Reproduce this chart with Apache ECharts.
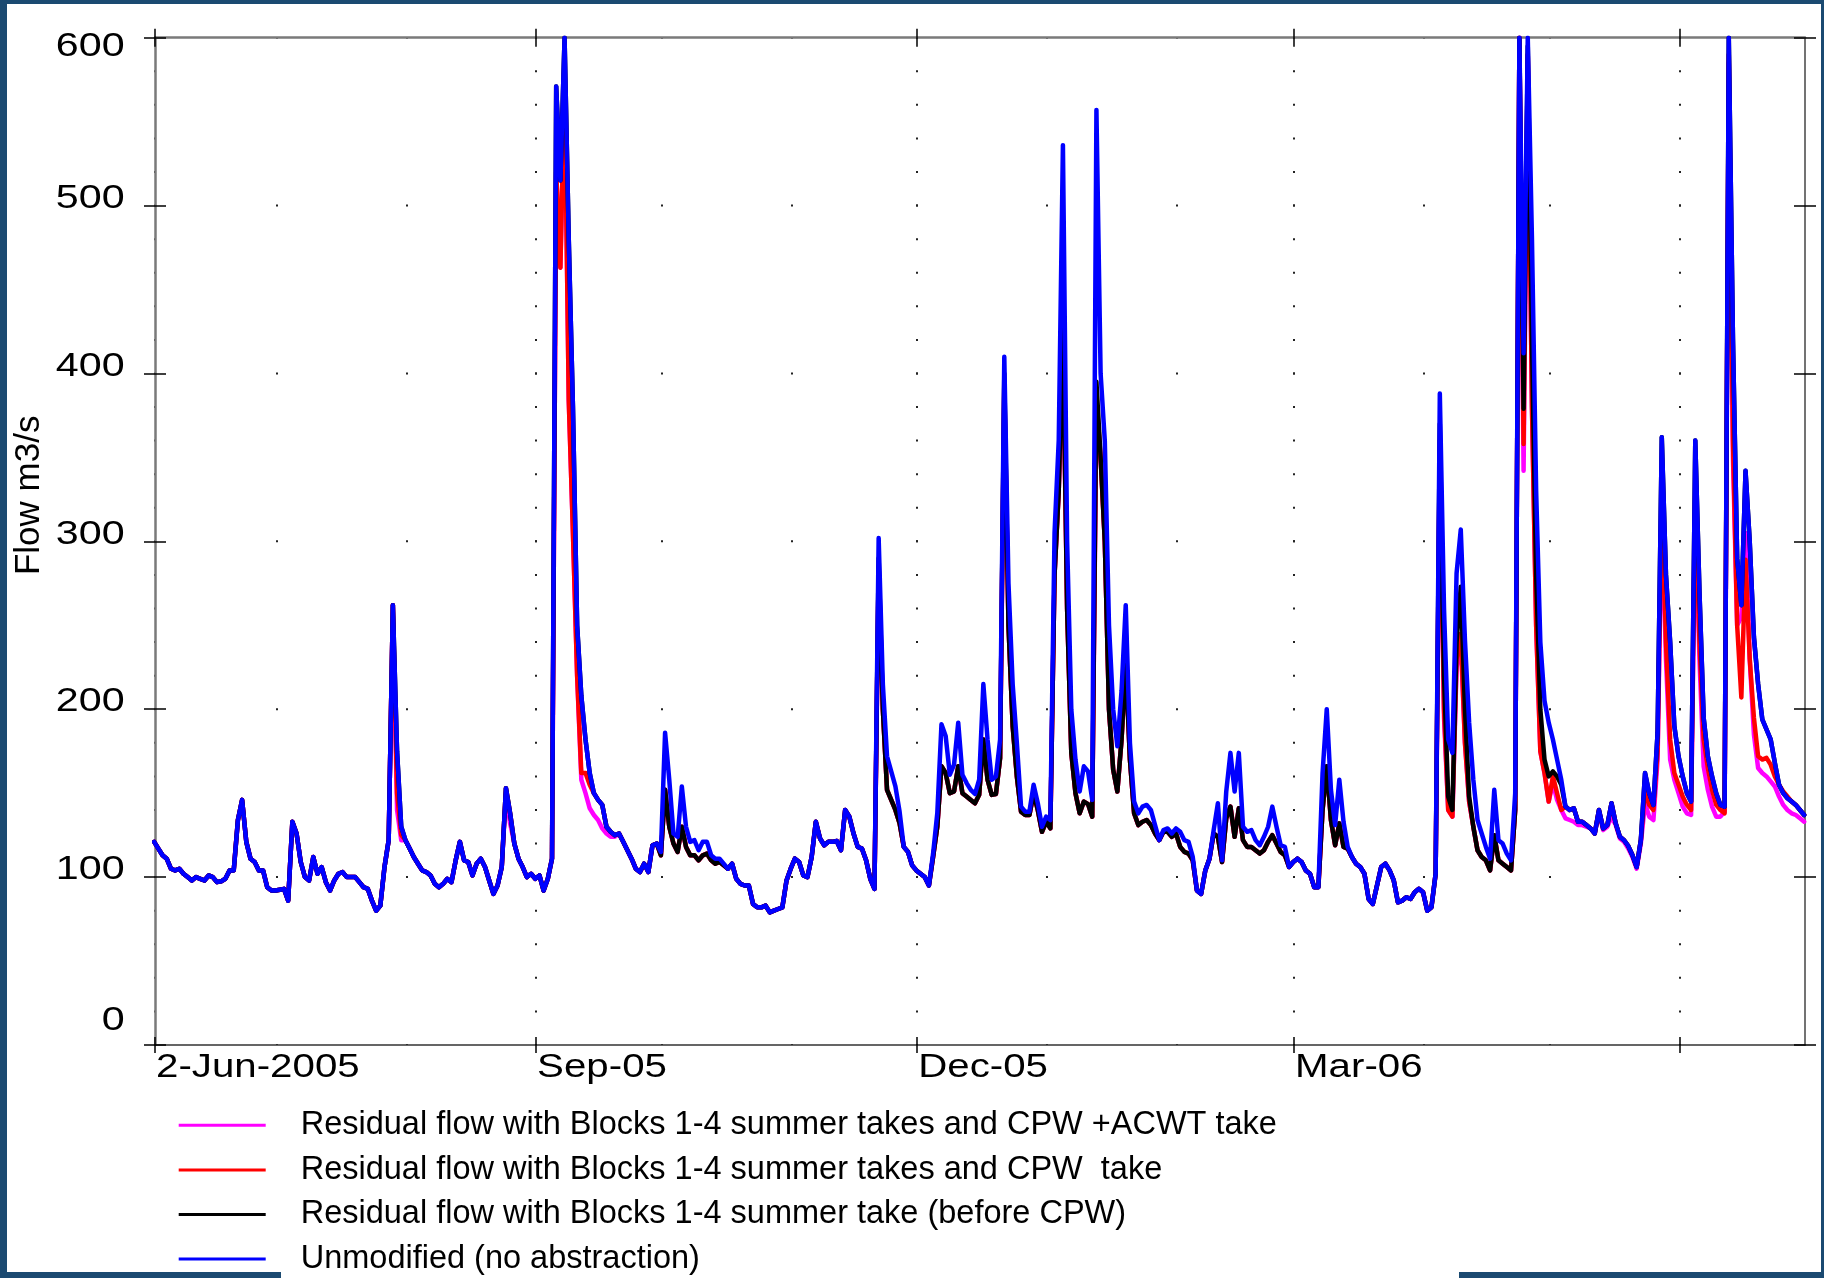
<!DOCTYPE html>
<html>
<head>
<meta charset="utf-8">
<title>Residual flow scenarios</title>
<script src="https://cdn.jsdelivr.net/npm/echarts@6/dist/echarts.min.js"></script>
<style>
  html, body { margin: 0; padding: 0; background: #ffffff; }
  #chart { width: 1824px; height: 1278px; }
</style>
</head>
<body>
<div id="chart"></div>
<script>
// ---------------------------------------------------------------------------
// Daily flow (m3/s), 2 Jun 2005 - 1 Jul 2006.
// Index i is the i-th daily sample; samples fall 0.8 day into each day,
// so sample i sits at (i - 0.2) days after the start of the axis.
// ---------------------------------------------------------------------------
const seriesNames = [
  'Residual flow with Blocks 1-4 summer takes and CPW +ACWT take',
  'Residual flow with Blocks 1-4 summer takes and CPW  take',
  'Residual flow with Blocks 1-4 summer take (before CPW)',
  'Unmodified (no abstraction)'
];
const seriesColors = ['#ff00ff', '#ff0000', '#000000', '#0000ff'];

// x-axis: days since 2-Jun-2005
const tickDays = [0, 91, 182, 272, 364];
const tickLabels = ['2-Jun-2005', 'Sep-05', 'Dec-05', 'Mar-06', ''];
const monthStartDays = [29, 60, 91, 121, 152, 182, 213, 244, 272, 303, 333, 364];
const dayRange = [0, 394];
const yTicks = [0, 100, 200, 300, 400, 500, 600];

const flowUnmodified = [
  121,117,113,111,105,104,105,102,100,98,
  100,99,98,101,100,97,97.5,99,104,104,
  134,146,121,111,109,104,104,94,92,92,
  92.5,93,86,133,126,109,100,98,112,102,
  106,97,92,98,102,103,100,100,100,97,
  94,93,86,80,83,106,122,262,175,130,
  122,117,112,108,104,103,101,96,94,96,
  99,97,110,121,110,109,101,108,111,106,
  98,90,95,106,153,138,120,111,106,100,
  102,99,101,92,99,111,571,515,600,480,
  380,250,208,182,162,150,146,143,130,127,
  125,126,121,116,111,105,103,108,103,119,
  120,115,186,158,126,124,154,130,121,122,
  116,121,121,113,111,111,108,105,108,99,
  96,95,95,84,82,82,83,79,80,81,
  82,98,105,111,109,101,100,112,133,123,
  119,121,121,121.5,116,140,136,126,118,117,
  110,99,93,302,215,172,163,154,139,118,
  115,107,104,102,100,95,114,138,191,184,
  161,167,192,161,156,152,149.5,158,215,182,
  158,160,182,410,275,215,180,142,139,139,
  155,144,130,136,134,305,360,536,300,200,
  170,151,166,163,146,557,400,360,250,200,
  178,211,262,180,145,138,142,143,140,131,
  122,128,129,126,129,127,122,121,112,92,
  90,104,111,128,144,110,151,174,151,174,
  130,127,128,122,119,124,130,142,130,119,
  118,106,109,111,109,104,102,94,94,162,
  200,152,131,158,133,118,112,108,106,102,
  87,84,95,106,108,104,98,85,86,88,
  87,91,93,91,80,82,102,388,260,182,
  174,281,307,241,192,158,134,126,118,111,
  152,122,120,114,110,150,600,412,600,480,
  330,240,205,192,182,170,158,142,140,141,
  133,133,131,129,126,140,129,131,144,132,
  124,122,118.5,113,106,122,162,150,143,186,
  362,280,240,190,172,160,150,145,360,270,
  195,172,160,150,143,142,600,420,290,262,
  342,300,243,215,194,188,182,168,155,150,
  147,145,143,140,137
];

const flowSummerTake = [
  121,117,113,111,105,104,105,102,100,98,
  100,99,98,101,100,97,97.5,99,104,104,
  134,146,121,111,109,104,104,94,92,92,
  92.5,93,86,133,126,109,100,98,112,102,
  106,97,92,98,102,103,100,100,100,97,
  94,93,86,80,83,106,122,262,175,130,
  122,117,112,108,104,103,101,96,94,96,
  99,97,110,121,110,109,101,108,111,106,
  98,90,95,106,153,138,120,111,106,100,
  102,99,101,92,99,111,571,515,600,480,
  380,250,208,182,162,150,146,143,130,127,
  125,126,121,116,111,105,103,108,103,119,
  120,113,152,130,120,115,130,118,113,113,
  110,113,114,110,108,109,107,105,108,99,
  96,95,95,84,82,82,83,79,80,81,
  82,98,105,111,109,101,100,112,133,123,
  119,121,121,121.5,116,140,136,126,118,117,
  110,99,93,290,200,152,146,140,132,118,
  115,107,104,102,100,95,112,130,166,162,
  150,151,166,150,148,146,144,149,182,158,
  149,149.5,171,400,250,190,160,139,137,137,
  150,140,127,133,129,280,330,430,260,174,
  150,138,145,143.5,136,395,350,300,200,164,
  151,182,228,170,138,131,133,134,131,126,
  122,127,127,124,126,118,115,114,110,92,
  90,104,111,126,124,109,135,142,124,141,
  122,118,118,116,114,116,121,125,120,115,
  113,106,109,111,109,104,102,94,94,140,
  166,134,119,132,118,117,112,108,106,102,
  87,84,95,106,108,104,98,85,86,88,
  87,91,93,91,80,82,102,370,220,148,
  140,240,273,200,148,130,116,112,110,104,
  125,110,108,106,104,140,600,379,595,420,
  280,200,170,160,163,160,155,142,140,141,
  133,133,131,129,126,140,129,131,144,132,
  124,122,118.5,113,106,122,162,150,143,186,
  362,280,240,190,172,160,150,145,360,270,
  195,172,160,150,143,142,600,420,290,262,
  342,300,243,215,194,188,182,168,155,150,
  147,145,143,140,137
];

const flowWithCPW = [
  121,117,113,111,105,104,105,102,100,98,
  100,99,98,101,100,97,97.5,99,104,104,
  134,146,121,111,109,104,104,94,92,92,
  92.5,93,86,133,126,109,100,98,112,102,
  106,97,92,98,102,103,100,100,100,97,
  94,93,86,80,83,106,122,262,150,125,
  122,117,112,108,104,103,101,96,94,96,
  99,97,110,121,110,109,101,108,111,106,
  98,90,95,106,153,138,120,111,106,100,
  102,99,101,92,99,111,520,463,575,384,
  305,220,162,162,155,150,146,143,130,127,
  125,126,121,116,111,105,103,108,103,119,
  120,113,152,130,120,115,130,118,113,113,
  110,113,114,110,108,109,107,105,108,99,
  96,95,95,84,82,82,83,79,80,81,
  82,98,105,111,109,101,100,112,133,123,
  119,121,121,121.5,116,140,136,126,118,117,
  110,99,93,285,200,152,146,140,132,118,
  115,107,104,102,100,95,112,130,166,162,
  150,151,166,150,148,146,144,149,182,158,
  149,149.5,171,395,250,190,160,139,137,137,
  150,140,127,133,129,280,330,425,260,174,
  150,138,145,143.5,136,385,350,300,200,164,
  151,182,228,170,138,131,133,134,131,126,
  122,127,127,124,126,118,115,114,110,92,
  90,104,111,126,124,109,135,142,124,141,
  122,118,118,116,114,116,121,125,120,115,
  113,106,109,111,109,104,102,94,94,140,
  166,134,119,132,118,117,112,108,106,102,
  87,84,95,106,108,104,98,85,86,88,
  87,91,93,91,80,82,102,360,200,140,
  136,230,245,180,145,130,116,112,110,104,
  125,110,108,106,104,140,600,358,590,380,
  250,175,162,145,160,150,140,142,140,141,
  133,133,131,129,126,140,129,131,144,132,
  124,122,118.5,113,106,122,152,143,140,175,
  330,240,182,162,155,148,143,140,330,240,
  182,165,152,143,140,138,590,360,250,207,
  289,230,195,172,170,171,167,160,155,151,
  148,145,143,140,137
];

const flowWithCPWACWT = [
  121,117,113,111,105,104,105,102,100,98,
  100,99,98,101,100,97,97.5,99,104,104,
  134,146,121,111,109,104,104,94,92,92,
  92.5,93,86,133,126,109,100,98,112,102,
  106,97,92,98,102,103,100,100,100,97,
  94,93,86,80,83,106,122,262,140,122,
  122,117,112,108,104,103,101,96,94,96,
  99,97,110,121,110,109,101,108,111,106,
  98,90,95,106,150,132,120,111,106,100,
  102,99,101,92,99,111,520,463,575,384,
  305,220,158,150,141,137,134,129,126,124,
  124,126,121,116,111,105,103,108,103,119,
  120,113,152,130,120,115,130,118,113,113,
  110,113,114,110,108,109,107,105,108,99,
  96,95,95,84,82,82,83,79,80,81,
  82,98,105,111,109,101,100,112,133,123,
  119,121,121,121.5,116,140,136,126,118,117,
  110,99,93,285,200,152,146,140,132,118,
  115,107,104,102,100,95,112,130,166,162,
  150,151,166,150,148,146,144,149,182,158,
  149,149.5,171,390,250,190,160,139,137,137,
  150,140,127,133,129,280,330,420,260,174,
  150,138,145,143.5,136,380,350,300,200,164,
  151,182,228,170,138,131,133,134,131,126,
  122,127,127,124,126,118,115,114,110,92,
  90,104,111,126,124,109,135,142,124,141,
  122,118,118,116,114,116,121,125,120,115,
  113,106,109,111,109,104,102,94,94,140,
  166,134,119,132,118,117,112,108,106,102,
  87,84,95,106,108,104,98,85,86,88,
  87,91,93,91,80,82,102,355,195,140,
  136,225,240,180,145,130,116,112,110,104,
  125,110,108,106,104,140,600,342,590,380,
  250,175,162,145,156,146,140,135,134,133,
  131,131,130,129,126,139,128,130,136,131,
  123,121,117,112,105,120,144,136,134,170,
  320,230,170,158,150,142,138,137,320,230,
  166,152,142,136,136,139,585,350,250,255,
  305,230,185,165,162,160,157,154,148,143,
  140,138,137,135,133
];

const seriesValues = [flowWithCPWACWT, flowWithCPW, flowSummerTake, flowUnmodified];

// ---------------------------------------------------------------------------
const SAMPLE_SHIFT = -0.2;           // day offset of sample 0 relative to the axis start
const FONT = "'Liberation Sans', Arial, Helvetica, sans-serif";
const FRAME = '#1b4a71';
const GRID = { left: 155, top: 37.7, width: 1650, height: 1007.3 };
const dotGap20 = GRID.height / 30;   // vertical grid dots every 20 m3/s
const dotGap100 = GRID.height / 6;   // month grid dots every 100 m3/s

// Tick labels use a horizontally widened face
const TICK_FONT_Y = { size: 33.5, stretch: 1.23 };
const TICK_FONT_X = { size: 33, stretch: 1.22 };

function toPoints(values) {
  return values.map((v, i) => [i + SAMPLE_SHIFT, v]);
}

const tickStyle = { color: '#000', width: 1.5 };
const noLabel = { show: false };

function xAxisOf(extra) {
  return Object.assign({
    type: 'value', gridIndex: 0, min: dayRange[0], max: dayRange[1],
    axisLine: { show: false, onZero: false },
    axisTick: { show: false },
    axisLabel: noLabel,
    splitLine: { show: false }
  }, extra);
}
function yAxisOf(extra) {
  return Object.assign({
    type: 'value', gridIndex: 0, min: 0, max: 600, interval: 100,
    axisLine: { show: false, onZero: false },
    axisTick: { show: false },
    axisLabel: noLabel,
    splitLine: { show: false }
  }, extra);
}

const xAxes = [
  // bottom axis with the dotted quarter lines
  xAxisOf({
    position: 'bottom',
    axisLine: { show: true, onZero: false, lineStyle: { color: '#333', width: 1.5 } },
    axisTick: { show: true, customValues: tickDays, inside: false, length: 8, lineStyle: tickStyle },
    splitLine: { show: true, lineStyle: { color: '#222', width: 2, type: [2, dotGap20 - 2], dashOffset: 1 } }
  }),
  xAxisOf({ position: 'bottom',
    axisTick: { show: true, customValues: tickDays, inside: true, length: 8, lineStyle: tickStyle } }),
  xAxisOf({ position: 'top',
    axisLine: { show: true, onZero: false, lineStyle: { color: '#7a7a7a', width: 2.5 } },
    axisTick: { show: true, customValues: tickDays, inside: false, length: 9, lineStyle: tickStyle } }),
  xAxisOf({ position: 'top',
    axisTick: { show: true, customValues: tickDays, inside: true, length: 9, lineStyle: tickStyle } }),
  // month-start dotted lines
  xAxisOf({ position: 'bottom',
    axisTick: { show: false, customValues: monthStartDays },
    splitLine: { show: true, lineStyle: { color: '#222', width: 2, type: [2, dotGap100 - 2], dashOffset: 1 } } })
];

const yAxes = [
  yAxisOf({
    position: 'left',
    axisLine: { show: true, onZero: false, lineStyle: { color: '#7a7a7a', width: 2.5 } },
    axisTick: { show: true, inside: false, length: 11, lineStyle: tickStyle },
    name: 'Flow m3/s',
    nameLocation: 'middle',
    nameRotate: 90,
    nameGap: 109,
    nameTextStyle: { fontFamily: FONT, fontSize: 35, color: '#000', lineHeight: 34, padding: [0, 0, 0, 92] }
  }),
  yAxisOf({ position: 'left',
    axisTick: { show: true, inside: true, length: 11, lineStyle: tickStyle } }),
  yAxisOf({ position: 'right',
    axisLine: { show: true, onZero: false, lineStyle: { color: '#444', width: 1.5 } },
    axisTick: { show: true, inside: false, length: 11, lineStyle: tickStyle } }),
  yAxisOf({ position: 'right',
    axisTick: { show: true, inside: true, length: 11, lineStyle: tickStyle } })
];

const series = seriesNames.map((name, k) => ({
  name: name,
  type: 'line',
  xAxisIndex: 0,
  yAxisIndex: 0,
  data: toPoints(seriesValues[k]),
  symbol: 'none',
  showSymbol: false,
  color: seriesColors[k],
  lineStyle: { color: seriesColors[k], width: 4.5, join: 'round', cap: 'round' },
  clip: true,
  silent: true,
  animation: false
}));

const frame = [
  { x: 0, y: 0, width: 7, height: 1278 },
  { x: 0, y: 0, width: 1824, height: 4 },
  { x: 1821, y: 0, width: 3, height: 1278 },
  { x: 0, y: 1272, width: 281, height: 6 },
  { x: 1459, y: 1272, width: 365, height: 6 }
].map((r, k) => ({ id: 'frame' + k, type: 'rect', shape: r, style: { fill: FRAME }, silent: true, z: 100 }));

const chart = echarts.init(document.getElementById('chart'), null, { renderer: 'canvas', width: 1824, height: 1278 });
chart.setOption({
  backgroundColor: '#ffffff',
  animation: false,
  grid: {
    left: GRID.left, top: GRID.top, width: GRID.width, height: GRID.height,
    containLabel: false, outerBoundsMode: 'none'
  },
  legend: {
    orient: 'vertical',
    left: 178.7,
    top: 1108.3,
    padding: 0,
    itemGap: 10.6,
    itemWidth: 87,
    itemHeight: 34,
    icon: 'path://M0,0H87V3H0Z',
    itemStyle: { borderWidth: 0 },
    selectedMode: false,
    textStyle: { fontFamily: FONT, fontSize: 32.5, color: '#000', lineHeight: 34, padding: [0, 0, 0, 30] },
    data: seriesNames
  },
  xAxis: xAxes,
  yAxis: yAxes,
  series: series,
  graphic: frame
});

// Tick labels, placed from the axis scales and drawn with a widened face.
function yLabelShift(v) {
  if (v === yTicks[yTicks.length - 1]) return 8.6;
  if (v === yTicks[0]) return -24;
  return -7;
}
const tickText = [];
yTicks.forEach(v => {
  const p = chart.convertToPixel({ xAxisIndex: 0, yAxisIndex: 0 }, [dayRange[0], v]);
  tickText.push({
    id: 'ylab' + v, type: 'text', silent: true, z: 50,
    x: p[0] - 30.4, y: p[1] + yLabelShift(v), scaleX: TICK_FONT_Y.stretch,
    style: { text: String(v), fontFamily: FONT, fontSize: TICK_FONT_Y.size, fill: '#000',
             align: 'right', verticalAlign: 'middle' }
  });
});
tickDays.forEach((d, k) => {
  if (!tickLabels[k]) return;
  const p = chart.convertToPixel({ xAxisIndex: 0, yAxisIndex: 0 }, [d, 0]);
  tickText.push({
    id: 'xlab' + k, type: 'text', silent: true, z: 50,
    x: p[0] + 1, y: p[1] + 22.5, scaleX: TICK_FONT_X.stretch,
    style: { text: tickLabels[k], fontFamily: FONT, fontSize: TICK_FONT_X.size, fill: '#000',
             align: 'left', verticalAlign: 'middle' }
  });
});
chart.setOption({ graphic: frame.concat(tickText) });
</script>
</body>
</html>
